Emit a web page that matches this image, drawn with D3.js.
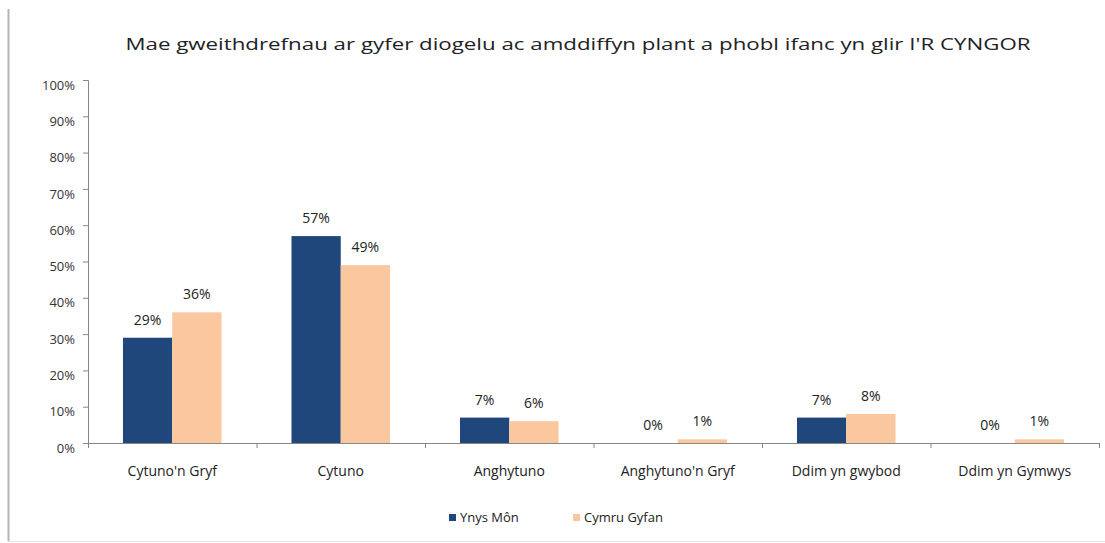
<!DOCTYPE html>
<html><head><meta charset="utf-8">
<script src="https://cdn.jsdelivr.net/npm/d3@7"></script>
<style>
html,body{margin:0;padding:0;background:#fff;}
svg{display:block;font-family:"Open Sans","Liberation Sans",sans-serif;}
</style></head>
<body><svg id="c" width="1105" height="543"></svg>
<script>
const title = "Mae gweithdrefnau ar gyfer diogelu ac amddiffyn plant a phobl ifanc yn glir I'R CYNGOR";
const categories = ["Cytuno'n Gryf","Cytuno","Anghytuno","Anghytuno'n Gryf","Ddim yn gwybod","Ddim yn Gymwys"];
const seriesNames = ["Ynys Môn","Cymru Gyfan"];
const ynysMon = [29,57,7,0,7,0];
const cymruGyfan = [36,49,6,1,8,1];
const yTicks = [0,10,20,30,40,50,60,70,80,90,100];
const colors = ["#1f477c","#fac79f"];

const svg = d3.select("#c");
const m = {left:88, right:1099, top:80, bottom:443};

// frame lines
svg.append("line").attr("x1",8.5).attr("x2",8.5).attr("y1",9).attr("y2",541).attr("stroke","#b5b5b5").attr("stroke-width",2);
svg.append("line").attr("x1",8).attr("x2",1105).attr("y1",541.5).attr("y2",541.5).attr("stroke","#e2e2e2").attr("stroke-width",1);

const x0 = d3.scaleBand().domain(categories).range([m.left,m.right]).paddingInner(0).paddingOuter(0);
const x1 = d3.scaleBand().domain(seriesNames).range([0,x0.bandwidth()]).paddingInner(0).paddingOuter(0.71);
const y = d3.scaleLinear().domain([0,100]).range([m.bottom,m.top]);

// title
svg.append("text").attr("x",578).attr("y",50).attr("text-anchor","middle")
  .attr("font-size",15.5).attr("fill","#222").attr("textLength",905).attr("lengthAdjust","spacingAndGlyphs").text(title);

// y axis
const ya = svg.append("g").attr("transform",`translate(${m.left},0)`)
  .call(d3.axisLeft(y).tickValues(yTicks).tickFormat(d=>d+"%").tickSize(5).tickPadding(8));
ya.select(".domain").attr("stroke","#868686");
ya.selectAll(".tick line").attr("stroke","#868686");
ya.selectAll(".tick text").attr("font-size",13).attr("fill","#333").attr("dy","0.7em")
  .attr("font-family","Open Sans, Liberation Sans, sans-serif");

// bars
const data = categories.map((c,i)=>({c, vals:[ynysMon[i],cymruGyfan[i]]}));
const g = svg.append("g");
data.forEach(d=>{
  d.vals.forEach((v,j)=>{
    const xs = x0(d.c)+x1(seriesNames[j]);
    g.append("rect").attr("x",xs).attr("y",y(v)).attr("width",x1.bandwidth()).attr("height",y(0)-y(v)).attr("fill",colors[j]);
    g.append("text").attr("x",xs+x1.bandwidth()/2).attr("y",y(v)-13).attr("text-anchor","middle")
      .attr("font-size",14).attr("fill","#222").text(v+"%");
  });
});

// x axis
const xa = svg.append("g").attr("transform",`translate(0,${m.bottom})`);
xa.append("line").attr("x1",m.left).attr("x2",m.right).attr("y1",0.5).attr("y2",0.5).attr("stroke","#868686");
const bounds = categories.map(c=>x0(c)).concat([m.right]);
xa.selectAll("line.t").data(bounds).enter().append("line").attr("class","t")
  .attr("x1",d=>d+0.5).attr("x2",d=>d+0.5).attr("y1",0).attr("y2",5).attr("stroke","#868686");
xa.selectAll("text").data(categories).enter().append("text")
  .attr("x",d=>x0(d)+x0.bandwidth()/2).attr("y",33).attr("text-anchor","middle")
  .attr("font-size",14).attr("fill","#222").text(d=>d);

// legend
const leg = svg.append("g").attr("transform","translate(449,522)");
const items = [{n:seriesNames[0],c:colors[0],x:0},{n:seriesNames[1],c:colors[1],x:124}];
items.forEach(it=>{
  leg.append("rect").attr("x",it.x).attr("y",-8).attr("width",7).attr("height",7).attr("fill",it.c);
  leg.append("text").attr("x",it.x+11).attr("y",0).attr("font-size",13).attr("fill","#222").text(it.n);
});
</script></body></html>
